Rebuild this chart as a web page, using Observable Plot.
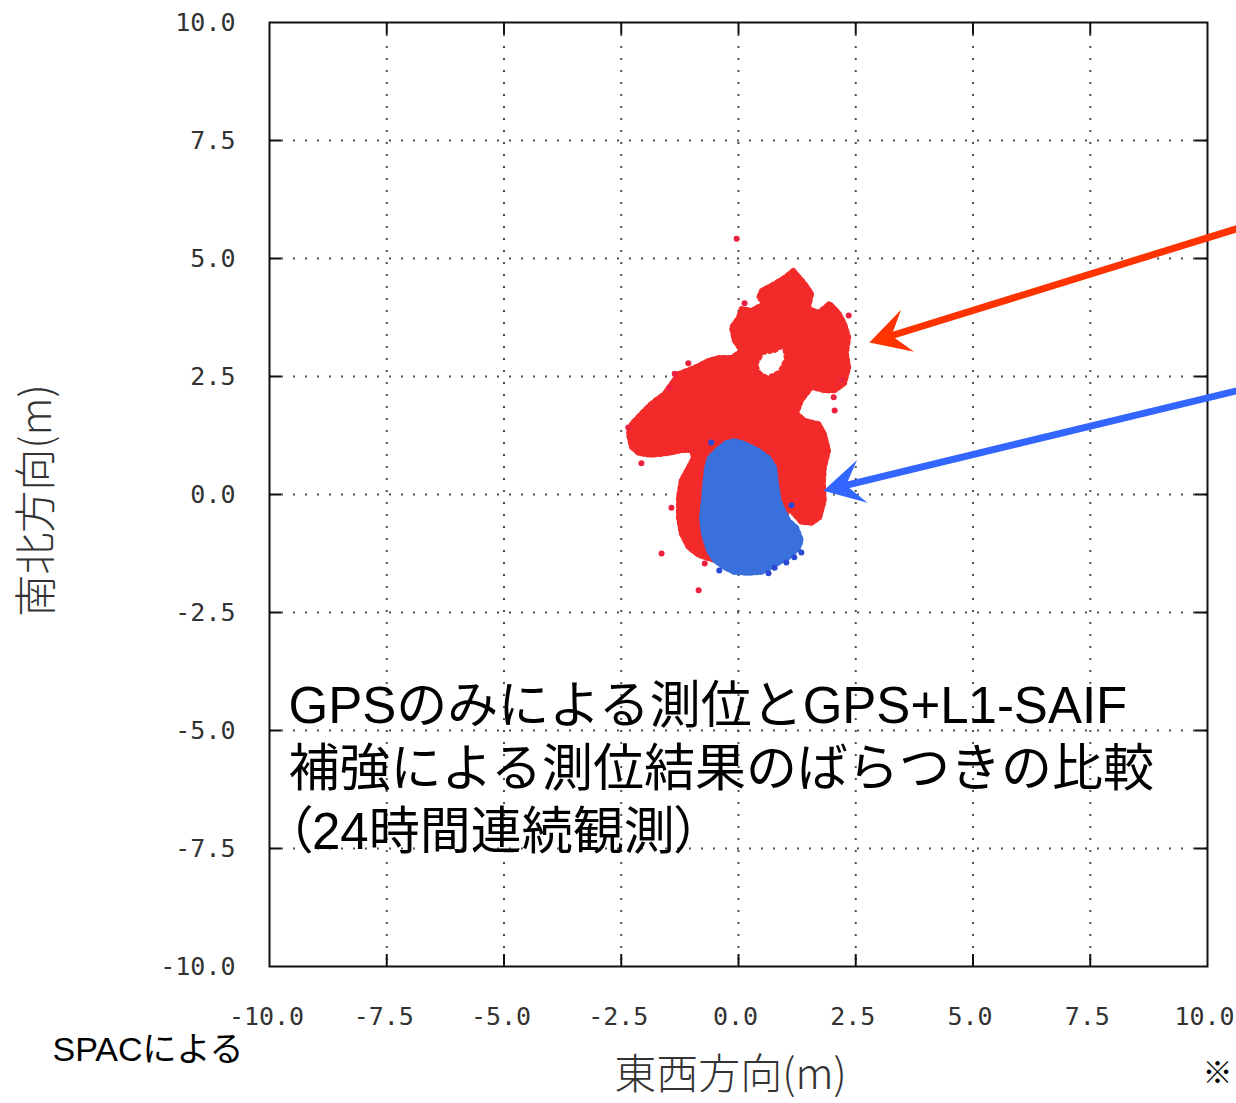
<!DOCTYPE html>
<html>
<head>
<meta charset="utf-8">
<script src="https://cdn.jsdelivr.net/npm/d3@7"></script>
<script src="https://cdn.jsdelivr.net/npm/@observablehq/plot@0.6"></script>
<style>
  html, body { margin: 0; padding: 0; background: #fff; }
</style>
</head>
<body>
<div id="chart"></div>
<script>
// ---- data (metres, east-west / north-south) ----
const xTicks = [-10, -7.5, -5, -2.5, 0, 2.5, 5, 7.5, 10];
const yTicks = [-10, -7.5, -5, -2.5, 0, 2.5, 5, 7.5, 10];
const innerTicks = [-7.5, -5, -2.5, 0, 2.5, 5, 7.5];

// GPS only (red) – outline of the point cloud
const redOutline = [
  [1.17, 4.75], [1.41, 4.47], [1.56, 4.26], [1.49, 3.94], [1.71, 3.86], [1.94, 4.05],
  [2.13, 3.86], [2.26, 3.62], [2.35, 3.33], [2.30, 2.99], [2.35, 2.69], [2.26, 2.35],
  [2.05, 2.20], [1.83, 2.20], [1.56, 2.27], [1.34, 1.99], [1.24, 1.72], [1.41, 1.57],
  [1.71, 1.50], [1.83, 1.29], [1.92, 0.93], [1.83, 0.57], [1.81, 0.23], [1.83, -0.13],
  [1.73, -0.49], [1.56, -0.61], [1.34, -0.59], [1.17, -0.40], [1.07, -0.28],
  [0.70, -1.40], [-0.15, -1.50], [-0.64, -1.36], [-0.85, -1.29], [-1.07, -1.12],
  [-1.22, -0.83], [-1.28, -0.49], [-1.28, -0.06], [-1.22, 0.30], [-1.07, 0.57],
  [-0.96, 0.78], [-1.00, 0.93], [-1.22, 0.93], [-1.49, 0.87], [-1.86, 0.83],
  [-2.13, 0.87], [-2.28, 1.00], [-2.35, 1.29], [-2.28, 1.50], [-2.07, 1.72],
  [-1.86, 1.93], [-1.58, 2.14], [-1.43, 2.35], [-1.28, 2.56], [-0.94, 2.69],
  [-0.64, 2.84], [-0.43, 2.90], [-0.15, 2.90], [0.06, 3.05], [-0.09, 3.26],
  [-0.15, 3.54], [0.00, 3.75], [0.06, 3.94], [0.28, 3.90], [0.55, 4.05],
  [0.43, 4.17], [0.49, 4.32], [0.77, 4.47], [0.98, 4.60]
];
const redHole = [
  [0.40, 2.75], [0.53, 2.98], [0.78, 3.02], [0.95, 3.12], [0.99, 2.88],
  [0.86, 2.62], [0.62, 2.50], [0.46, 2.60]
];
const redDots = [
  [-0.04, 5.42], [0.13, 4.05], [-1.07, 2.78], [-1.36, 2.56], [-1.47, 2.25],
  [2.35, 3.79], [2.20, 2.42], [2.03, 2.06], [2.05, 1.78], [-2.35, 1.42],
  [-2.07, 0.66], [-1.43, -0.28], [-1.64, -1.25], [-0.72, -1.46], [-0.85, -2.03]
];

// GPS + L1-SAIF (blue)
const blueOutline = [
  [-0.09, 1.14], [0.13, 1.08], [0.43, 0.93], [0.64, 0.78], [0.77, 0.57], [0.81, 0.23],
  [0.87, -0.13], [0.96, -0.34], [1.07, -0.55], [1.24, -0.70], [1.34, -0.97],
  [1.28, -1.14], [1.07, -1.33], [0.77, -1.50], [0.49, -1.65], [0.21, -1.67],
  [-0.09, -1.65], [-0.30, -1.55], [-0.51, -1.40], [-0.64, -1.19], [-0.75, -0.83],
  [-0.79, -0.49], [-0.75, -0.13], [-0.72, 0.23], [-0.68, 0.57], [-0.62, 0.78],
  [-0.43, 0.97], [-0.26, 1.10]
];
const blueDots = [
  [-0.58, 1.10], [1.13, -0.23], [1.34, -1.23], [1.19, -1.33], [1.02, -1.44],
  [0.77, -1.55], [0.64, -1.67], [-0.41, -1.61]
];

// annotation arrows (tail -> tip)
const arrows = [
  {x1: 10.72, y1: 5.66, x2: 2.79, y2: 3.22, color: "#ff3300"},
  {x1: 10.72, y1: 2.22, x2: 1.81, y2: 0.08, color: "#3366ff"}
];

const xLabel = "東西方向(m)";
const yLabel = "南北方向(m)";
const noteLines = ["GPSのみによる測位とGPS+L1-SAIF", "補強による測位結果のばらつきの比較", "（24時間連続観測）"];
const sourceText = "SPACによる";
const markText = "※";

// ---- layout ----
const W = 1236, H = 1103;
const mL = 269, mR = 29, mT = 22, mB = 137;
const pw = W - mL - mR, ph = H - mT - mB;
const kx = pw / 20, ky = ph / 20;

const closed = a => a.concat([a[0]]);
const angleOf = d => Math.atan2(-(d.y2 - d.y1) * ky, (d.x2 - d.x1) * kx) * 180 / Math.PI;

// stealth arrowhead symbol: tip at origin, pointing to +x
const headSymbol = {
  draw(ctx, size) {
    const L = Math.sqrt(size / Math.PI);
    ctx.moveTo(0, 0);
    ctx.lineTo(-L, -0.55 * L);
    ctx.lineTo(-0.58 * L, 0);
    ctx.lineTo(-L, 0.55 * L);
    ctx.closePath();
  }
};

const jp = "'Liberation Sans', 'Noto Sans CJK JP', sans-serif";
const jpThin = "'Noto Sans CJK JP', 'DejaVu Sans', sans-serif";
const noteSize = 51;
const lineGap = 63;

const plot = Plot.plot({
  width: W,
  height: H,
  marginLeft: mL,
  marginRight: mR,
  marginTop: mT,
  marginBottom: mB,
  x: {domain: [-10, 10]},
  y: {domain: [-10, 10]},
  color: {type: "identity"},
  style: {fontFamily: "'DejaVu Sans Mono', monospace", fontSize: "25px", color: "#333", background: "#fff"},
  marks: [
    Plot.gridX(innerTicks, {stroke: "#333", strokeOpacity: 0.85, strokeWidth: 2, strokeDasharray: "2,10"}),
    Plot.gridY(innerTicks, {stroke: "#333", strokeOpacity: 0.85, strokeWidth: 2, strokeDasharray: "2,10"}),
    // red cloud
    Plot.line(closed(redOutline), {x: d => d[0], y: d => d[1], fill: "#f22a2a", stroke: "#f22a2a", strokeWidth: 5, strokeDasharray: "3,3"}),
    Plot.line(closed(redHole), {x: d => d[0], y: d => d[1], fill: "#fff", stroke: "#f22a2a", strokeWidth: 2, strokeDasharray: "3,3"}),
    Plot.dot(redDots, {x: d => d[0], y: d => d[1], r: 3, fill: "#ee2040", stroke: "none"}),
    // blue cloud
    Plot.line(closed(blueOutline), {x: d => d[0], y: d => d[1], fill: "#3a70dc", stroke: "#3a70dc", strokeWidth: 5, strokeDasharray: "3,3"}),
    Plot.dot(blueDots, {x: d => d[0], y: d => d[1], r: 3, fill: "#2a48d6", stroke: "none"}),
    // frame and inner ticks
    Plot.frame({stroke: "#111", strokeWidth: 2}),
    Plot.tickX(innerTicks, {x: d => d, insetTop: ph - 12, stroke: "#111", strokeWidth: 2}),
    Plot.tickX(innerTicks, {x: d => d, insetBottom: ph - 12, stroke: "#111", strokeWidth: 2}),
    Plot.tickY(innerTicks, {y: d => d, insetRight: pw - 12, stroke: "#111", strokeWidth: 2}),
    Plot.tickY(innerTicks, {y: d => d, insetLeft: pw - 12, stroke: "#111", strokeWidth: 2}),
    // tick labels
    Plot.axisX(xTicks, {anchor: "bottom", tickSize: 0, tickPadding: 41, dx: -3, tickFormat: d => d.toFixed(1), label: null, fill: "#333"}),
    Plot.axisY(yTicks, {anchor: "left", tickSize: 0, tickPadding: 34, tickFormat: d => d.toFixed(1), label: null, fill: "#333"}),
    // axis titles
    Plot.text([xLabel], {text: d => d, frameAnchor: "bottom", dx: -8, dy: 109, textAnchor: "middle", lineAnchor: "middle", fontSize: 42, fontFamily: jpThin, fontWeight: 300, fill: "#333"}),
    Plot.text([yLabel], {text: d => d, frameAnchor: "left", dx: -232, dy: 6, rotate: -90, textAnchor: "middle", lineAnchor: "middle", fontSize: 42, fontFamily: jpThin, fontWeight: 300, fill: "#333"}),
    // annotation (three lines)
    Plot.text([noteLines.join("\n")], {text: d => d, frameAnchor: "left", dx: 19, dy: 702 - 494 + lineGap, textAnchor: "start", lineAnchor: "middle", lineHeight: lineGap / noteSize, fontSize: noteSize, fontFamily: jp, fill: "#000"}),
    Plot.text([sourceText], {text: d => d, frameAnchor: "bottom-left", dx: 52 - mL, dy: 84, textAnchor: "start", lineAnchor: "middle", fontSize: 34, fontFamily: jp, fill: "#000"}),
    Plot.text([markText], {text: d => d, frameAnchor: "bottom-right", dx: 25, dy: 107, textAnchor: "end", lineAnchor: "middle", fontSize: 30, fontFamily: jp, fill: "#000"}),
    // arrows
    Plot.arrow(arrows, {x1: "x1", y1: "y1", x2: "x2", y2: "y2", stroke: "color", strokeWidth: 7, headLength: 0, insetEnd: 22, strokeLinecap: "butt"}),
    Plot.dot(arrows, {x: "x2", y: "y2", r: 40, symbol: headSymbol, rotate: angleOf, fill: "color", stroke: "none"})
  ]
});
// proportional (narrow) brackets for the third annotation line, as in the source
d3.select(plot).selectAll("tspan")
  .filter(function() { return this.textContent === noteLines[2]; })
  .style("font-feature-settings", "\"palt\" 1")
  .attr("x", function() { return +(this.getAttribute("x") || 0) - 2; });
document.getElementById("chart").append(plot);
</script>
</body>
</html>
